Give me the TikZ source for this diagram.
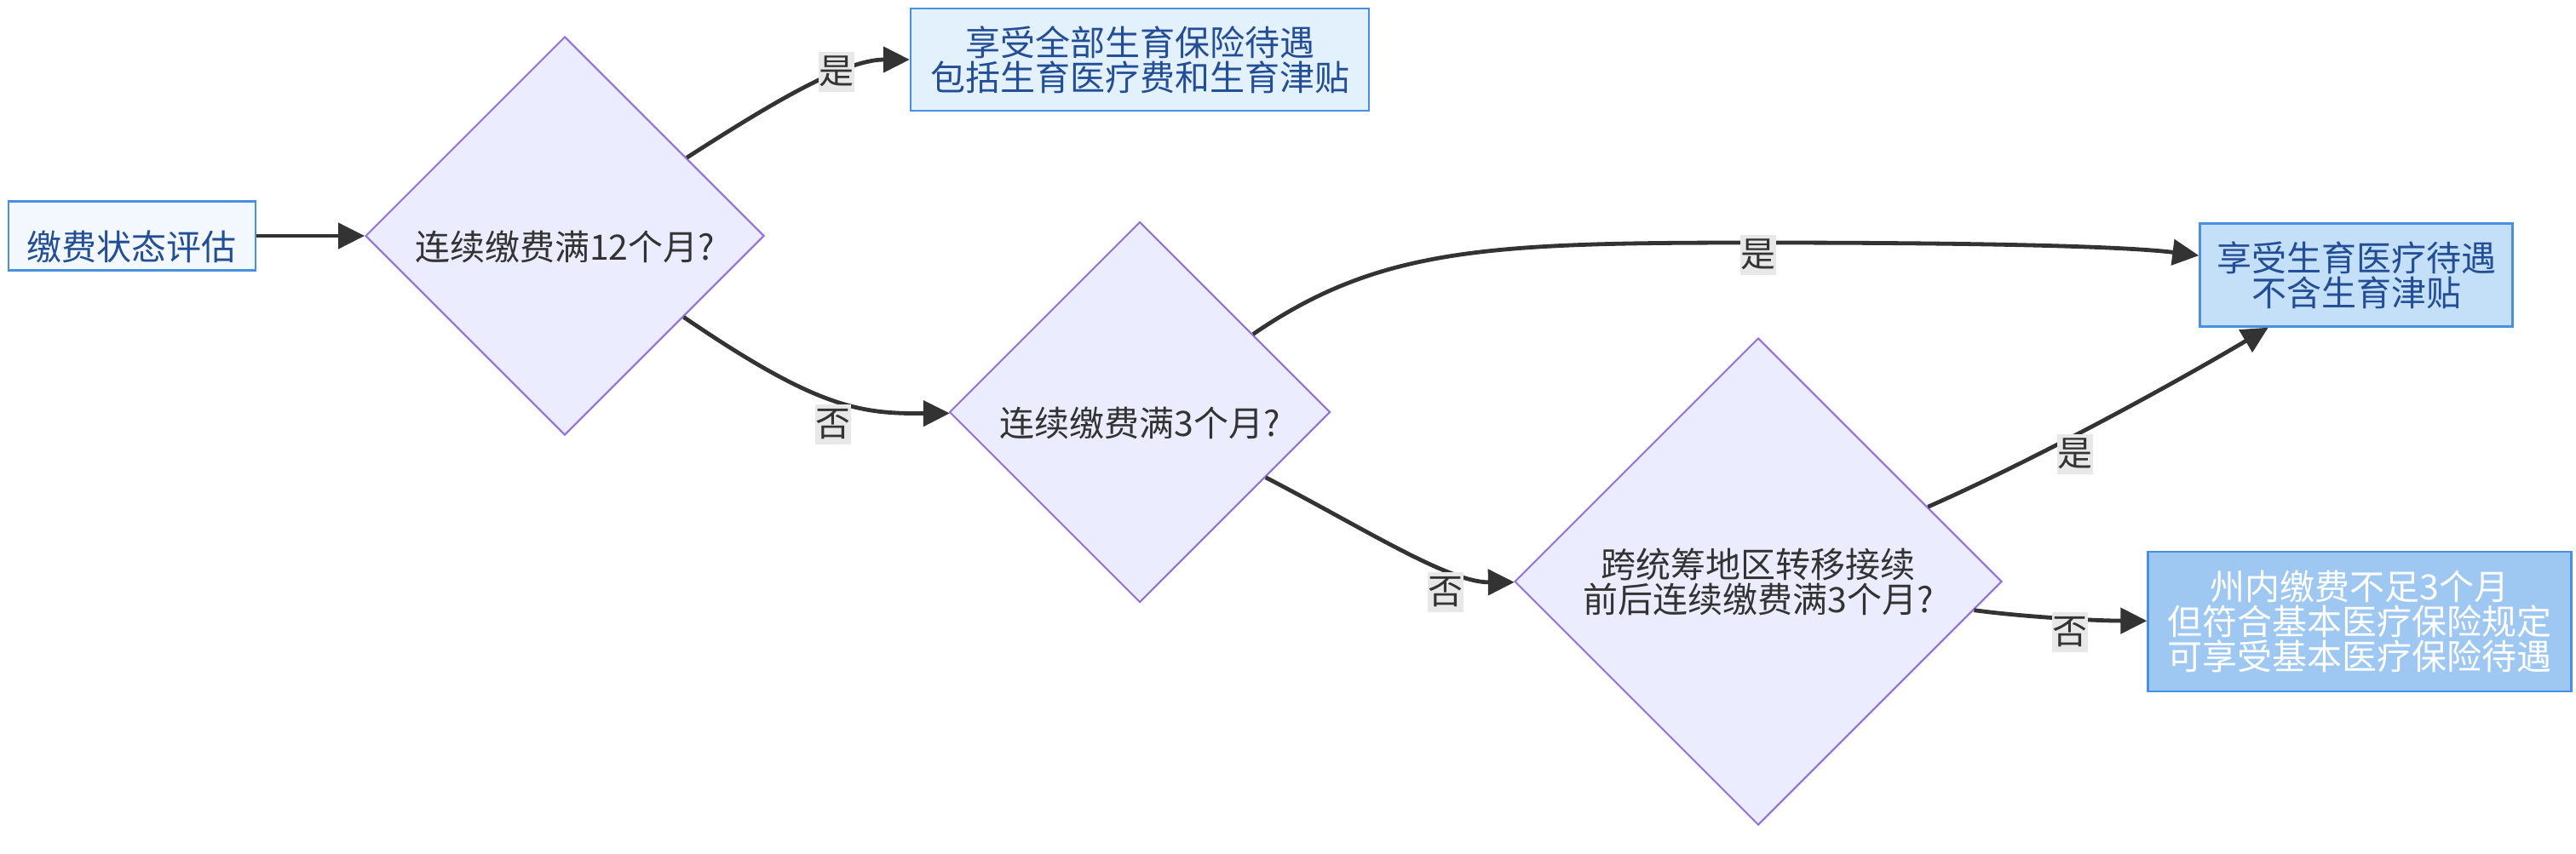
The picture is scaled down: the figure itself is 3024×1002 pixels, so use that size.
\documentclass[tikz,border=0pt]{standalone}
\usepackage{fontspec}
\setmainfont{Noto Sans CJK SC}
\usetikzlibrary{shapes.geometric,arrows.meta}
\definecolor{edgegray}{HTML}{333333}
\definecolor{boxline}{RGB}{74,144,226}
\definecolor{boxtext}{RGB}{35,78,150}
\definecolor{startfill}{RGB}{242,248,254}
\definecolor{allfill}{RGB}{227,241,253}
\definecolor{medfill}{RGB}{196,223,248}
\definecolor{basicfill}{RGB}{158,200,242}
\definecolor{decfill}{HTML}{ECECFF}
\definecolor{decline}{HTML}{9370DB}
\definecolor{lblfill}{HTML}{E8E8E8}
\newcommand{\lowtext}[1]{\raisebox{-6.5pt}[\height][\depth]{#1}}
\tikzset{
  box/.style={draw=boxline, line width=1.2pt, text=boxtext, align=center, inner sep=0pt},
  decide/.style={diamond, aspect=1, draw=decline, fill=decfill, line width=1pt,
    text=edgegray, align=center, inner sep=0pt},
  lbl/.style={fill=lblfill, text=edgegray, inner sep=0pt, minimum width=21pt, minimum height=23.5pt},
  arr/.style={draw=edgegray, line width=2.4pt, -{Triangle[length=15.5pt,width=15pt]}}
}
\begin{document}
\begin{tikzpicture}[x=0.5pt,y=-0.5pt,font=\fontsize{20.5pt}{20.5pt}\selectfont]
      \path[use as bounding box, fill=white] (0,0) rectangle (3024,1002);
      \node[box, fill=startfill, minimum width=145pt, minimum height=40.5pt] (eval) at (155,277) {\lowtext{缴费状态评估}};
      \node[decide, minimum width=234pt, minimum height=234pt] (q12) at (663,277) {\lowtext{连续缴费满12个月?}};
      \node[box, fill=allfill, minimum width=269pt, minimum height=60pt] (allpay) at (1338,70) {享受全部生育保险待遇\\包括生育医疗费和生育津贴};
      \node[decide, minimum width=223.5pt, minimum height=223.5pt] (q3m) at (1338,484) {\lowtext{连续缴费满3个月?}};
      \node[box, fill=medfill, minimum width=183.5pt, minimum height=60.5pt] (medonly) at (2766,323) {享受生育医疗待遇\\不含生育津贴};
      \node[decide, minimum width=286pt, minimum height=286pt] (qtrans) at (2064,683) {跨统筹地区转移接续\\前后连续缴费满3个月?};
      \node[box, fill=basicfill, text=white, minimum width=248.5pt, minimum height=82pt] (basicmed) at (2770,730) {州内缴费不足3个月\\但符合基本医疗保险规定\\可享受基本医疗保险待遇};
      \begin{scope}[arr]
        \draw (eval) -- (q12);
        \draw (q12) .. controls (900,125) and (990,70) .. (allpay) node[lbl, pos=0.65, yshift=2pt] {是};
        \draw (q12) .. controls (960,480) and (1010,486) .. (q3m) node[lbl, pos=0.5, yshift=-14.5pt] {否};
        \draw (q3m) .. controls (1620,290) and (1750,285) .. (2064,285) node[lbl, yshift=-7pt] {是}
          .. controls (2350,285) and (2500,290) .. (medonly);
        \draw (q3m) .. controls (1600,620) and (1700,684) .. (qtrans) node[lbl, pos=0.68, yshift=-14.5pt] {否};
        \draw (qtrans) .. controls (2400,535) and (2570,440) .. (medonly) node[lbl, pos=0.4, yshift=-11pt] {是};
        \draw (qtrans) .. controls (2380,725) and (2460,729) .. (basicmed) node[lbl, pos=0.55, yshift=-8pt] {否};
      \end{scope}
    \end{tikzpicture}
\end{document}
